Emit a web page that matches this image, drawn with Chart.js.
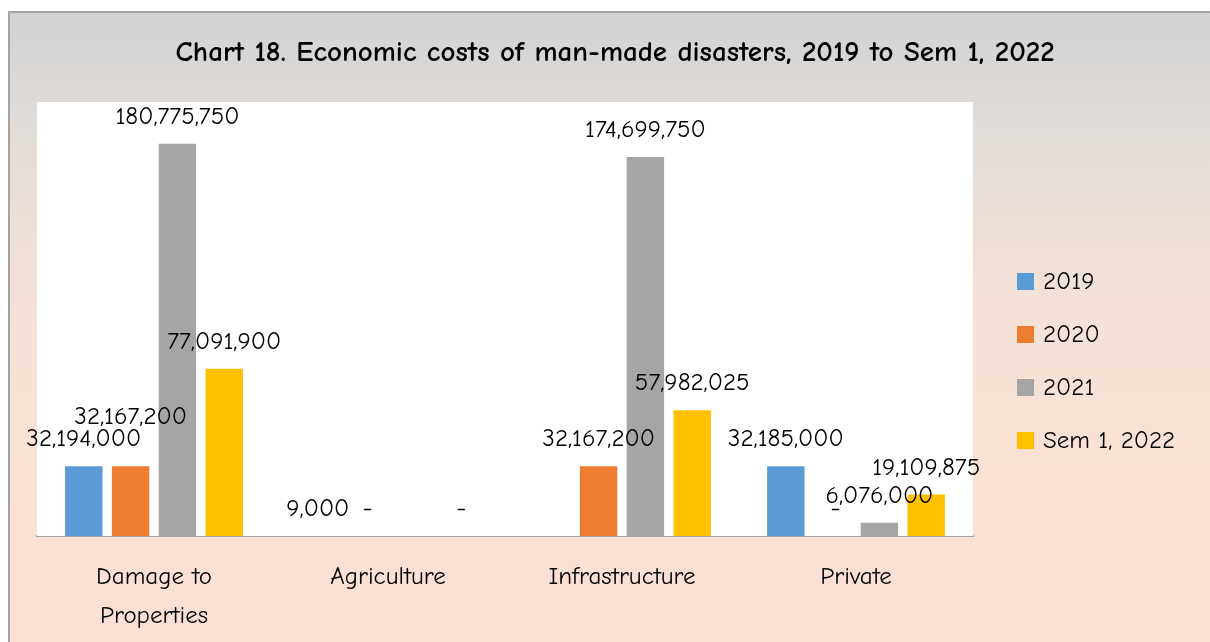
<!DOCTYPE html>
<html>
<head>
<meta charset="utf-8">
<script src="https://cdn.jsdelivr.net/npm/chart.js@4"></script>
<style>
  body { margin: 0; background: #fff; }
  #frame {
    position: absolute; left: 8px; top: 11px;
    width: 1200px; height: 629px;
    border-left: 2px solid #a3a3a3; border-top: 2px solid #a3a3a3;
    background: linear-gradient(to bottom, #d3d3d3 0%, #e1dcd8 18%, #f6e2d7 50%, #fbe1d4 75%, #fbe0d3 100%);
  }
  canvas { display: block; }
</style>
</head>
<body>
<div id="frame"><canvas id="costChart" width="1200" height="629"></canvas></div>
<script>
const categories = [["Damage to", "Properties"], "Agriculture", "Infrastructure", "Private"];
const seriesNames = ["2019", "2020", "2021", "Sem 1, 2022"];
const colors = ["#5b9bd5", "#ed7d31", "#a5a5a5", "#ffc000"];

// null = no value at all, 0 = shown as "-"
const costs2019 = [32194000, 9000, null, 32185000];
const costs2020 = [32167200, 0, 32167200, 0];
const costs2021 = [180775750, null, 174699750, 6076000];
const costsSem1_2022 = [77091900, 0, 57982025, 19109875];

const FONT = '"Comic Sans MS", "Comic Neue", "DejaVu Sans", sans-serif';

const allSeries = [costs2019, costs2020, costs2021, costsSem1_2022];

// white plot area, title, legend, value labels
const decor = {
  id: "decor",
  beforeDatasetsDraw(chart) {
    const { ctx, chartArea: a } = chart;
    ctx.save();
    ctx.fillStyle = "#ffffff";
    ctx.fillRect(a.left, a.top, a.right - a.left, a.bottom - a.top);
    ctx.restore();
  },
  afterDraw(chart) {
    const ctx = chart.ctx;
    ctx.save();
    // title
    ctx.fillStyle = "#000";
    ctx.font = "bold 29px " + FONT;
    ctx.textAlign = "center";
    ctx.textBaseline = "middle";
    ctx.fillText("Chart 18. Economic costs of man-made disasters, 2019 to Sem 1, 2022", 605, 40);

    // legend
    ctx.font = "25px " + FONT;
    ctx.textAlign = "left";
    chart.data.datasets.forEach((ds, i) => {
      const cy = 268 + i * 53;
      ctx.fillStyle = ds.backgroundColor;
      ctx.fillRect(1007, cy - 8, 17, 17);
      ctx.fillStyle = "#000";
      ctx.fillText(ds.label, 1033, cy + 1);
    });

    // data labels
    ctx.textAlign = "center";
    chart.data.datasets.forEach((ds, i) => {
      const meta = chart.getDatasetMeta(i);
      meta.data.forEach((bar, j) => {
        const v = ds.data[j];
        if (v === null) return;
        let txt = v === 0 ? "-" : v.toLocaleString("en-US");
        let dx = v === 0 ? 3 : 0;
        let dy = 27;
        if (i === 1 && j === 0) dy = 49; // Excel nudged this one up
        ctx.fillText(txt, bar.x + dx, bar.y - dy);
      });
    });
    ctx.restore();
  }
};

new Chart(document.getElementById("costChart"), {
  type: "bar",
  data: {
    labels: categories,
    datasets: seriesNames.map((name, i) => ({
      label: name,
      data: allSeries[i],
      backgroundColor: colors[i],
      categoryPercentage: 0.8,
      barPercentage: 0.8
    }))
  },
  options: {
    responsive: false,
    animation: false,
    layout: { padding: { left: 27, top: 89, right: 237, bottom: 0 } },
    plugins: {
      legend: { display: false },
      title: { display: false },
      tooltip: { enabled: false }
    },
    scales: {
      x: {
        grid: { display: false, drawTicks: false },
        border: { display: true, color: "#a6a6a6", width: 2 },
        ticks: {
          color: "#000",
          font: { family: FONT, size: 25, lineHeight: 1.55 },
          padding: 22,
          maxRotation: 0
        },
        afterFit(scale) { scale.height = 106; }
      },
      y: {
        display: false,
        min: 0,
        max: 200000000
      }
    }
  },
  plugins: [decor]
});
</script>
</body>
</html>
